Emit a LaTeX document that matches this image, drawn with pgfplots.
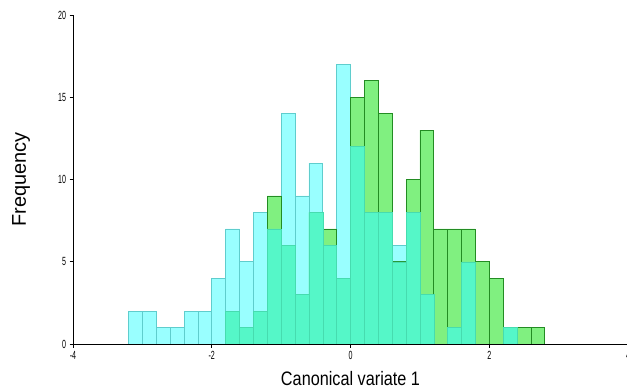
\documentclass[border=0pt]{standalone}
\usepackage{pgfplots}
\pgfplotsset{compat=1.18}
\usepackage{fontspec}
\setmainfont{Liberation Sans}
\definecolor{cyanfill}{RGB}{153,255,255}
\definecolor{cyanedge}{RGB}{95,205,205}
\definecolor{greenfill}{RGB}{128,240,128}
\definecolor{greenedge}{RGB}{35,140,35}
\definecolor{overfill}{RGB}{85,247,200}
\definecolor{overedge}{RGB}{70,220,175}
\begin{document}
\begin{tikzpicture}[x=1bp,y=1bp]
\path[use as bounding box] (0,0) rectangle (627,389);
\begin{axis}[
  at={(73bp,45bp)}, anchor=south west,
  scale only axis, width=555bp, height=329bp,
  xmin=-4, xmax=4, ymin=0, ymax=20,
  axis x line*=bottom, axis y line*=left,
  axis line style={-, line width=0.9pt, black},
  xtick={-4,-2,0,2,4}, ytick={0,5,10,15,20},
  tick align=outside, major tick length=3.5bp,
  tick style={black, line width=0.6pt},
  xticklabel={\scalebox{0.75}[1.25]{\pgfmathprintnumber{\tick}}},
  yticklabel={\scalebox{0.75}[1.25]{\pgfmathprintnumber{\tick}}},
  /pgf/number format/assume math mode=true,
  ticklabel style={font=\fontsize{9.5}{9.5}\selectfont},
  xlabel={\scalebox{1}[1.2]{\fontsize{16.3}{18}\selectfont Canonical variate 1}},
  ylabel={\fontsize{20}{22}\selectfont Frequency},
  xlabel style={at={(axis description cs:0.5,0)}, anchor=center, yshift=-35bp},
  ylabel style={at={(axis description cs:0,0.5)}, anchor=center, yshift=52bp},
  axis on top,
  clip=false,
]
\addplot[ybar interval, fill=cyanfill, draw=cyanedge, line width=0.6pt] coordinates {
(-3.2,2) (-3.0,2) (-2.8,1) (-2.6,1) (-2.4,2) (-2.2,2) (-2.0,4) (-1.8,7) (-1.6,5) (-1.4,8)
(-1.2,7) (-1.0,14) (-0.8,9) (-0.6,11) (-0.4,6) (-0.2,17) (0.0,12) (0.2,8) (0.4,8) (0.6,6)
(0.8,8) (1.0,3) (1.2,0) (1.4,1) (1.6,5) (1.8,0) (2.0,0) (2.2,1) (2.4,1)
};
\addplot[ybar interval, fill=greenfill, draw=greenedge, line width=0.6pt] coordinates {
(-1.8,2) (-1.6,1) (-1.4,2) (-1.2,9) (-1.0,6) (-0.8,3) (-0.6,8) (-0.4,7) (-0.2,4) (0.0,15)
(0.2,16) (0.4,14) (0.6,5) (0.8,10) (1.0,13) (1.2,7) (1.4,7) (1.6,7) (1.8,5) (2.0,4)
(2.2,1) (2.4,1) (2.6,1) (2.8,1)
};
\addplot[ybar interval, fill=overfill, draw=overedge, line width=0.5pt] coordinates {
(-1.8,2) (-1.6,1) (-1.4,2) (-1.2,7) (-1.0,6) (-0.8,3) (-0.6,8) (-0.4,6) (-0.2,4) (0.0,12)
(0.2,8) (0.4,8) (0.6,5) (0.8,8) (1.0,3) (1.2,0) (1.4,1) (1.6,5) (1.8,0) (2.0,0)
(2.2,1) (2.4,1)
};
\end{axis}
\end{tikzpicture}
\end{document}
